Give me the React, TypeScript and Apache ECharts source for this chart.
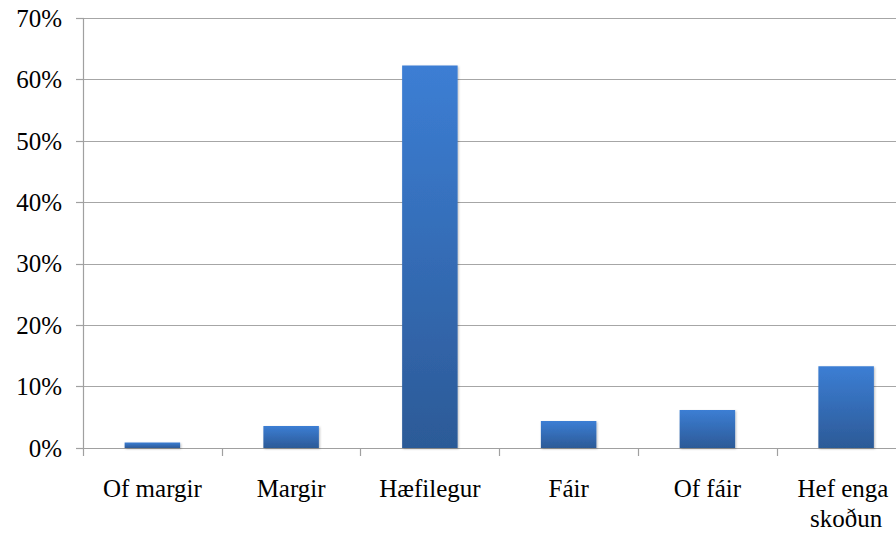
import React, { useEffect, useRef } from "react";
import * as echarts from "echarts";

const categories = ["Of margir", "Margir", "Hæfilegur", "Fáir", "Of fáir", "Hef enga skoðun"];
const values = [0.9, 3.6, 62.3, 4.4, 6.2, 13.3];
const yTicks = [0, 10, 20, 30, 40, 50, 60, 70];

export default function App() {
  const ref = useRef<HTMLDivElement>(null);
  useEffect(() => {
    if (!ref.current) return;
    const chart = echarts.init(ref.current, undefined, { renderer: "svg" });
    const font = "serif";
    chart.setOption({
      animation: false,
      textStyle: { fontFamily: font },
      grid: { left: 83, top: 18.3, width: 832.5, height: 433 },
      xAxis: {
        type: "category",
        data: categories,
        axisLine: { show: true, lineStyle: { color: "#a0a0a0", width: 1.2 } },
        axisTick: { show: true, length: 8, alignWithLabel: false, lineStyle: { color: "#a0a0a0", width: 1.2 } },
        axisLabel: {
          color: "#000",
          fontFamily: font,
          fontSize: 25,
          lineHeight: 30,
          margin: 25,
          interval: 0,
          width: 130,
          overflow: "break",
        },
      },
      yAxis: {
        type: "value",
        min: yTicks[0],
        max: yTicks[yTicks.length - 1],
        interval: 10,
        axisLine: { show: true, lineStyle: { color: "#a0a0a0", width: 1.2 } },
        axisTick: { show: true, length: 7, lineStyle: { color: "#a0a0a0", width: 1.2 } },
        splitLine: { show: true, lineStyle: { color: "#a6a6a6", width: 1.2 } },
        axisLabel: {
          color: "#000",
          fontFamily: font,
          fontSize: 25,
          margin: 21,
          formatter: (v: number) => `${v}%`,
        },
      },
      series: [
        {
          type: "bar",
          data: values,
          barWidth: "40%",
          itemStyle: {
            color: new echarts.graphic.LinearGradient(0, 0, 0, 1, [
              { offset: 0, color: "#3c7ed4" },
              { offset: 1, color: "#2c5a97" },
            ]),
            shadowColor: "rgba(0,0,0,0.25)",
            shadowBlur: 2,
            shadowOffsetX: 1,
            shadowOffsetY: 1,
          },
        },
      ],
    });
    return () => chart.dispose();
  }, []);
  return (
    <div
      style={{ position: "fixed", left: 0, top: 0, width: 896, height: 533, overflow: "hidden", background: "#fff" }}
    >
      <div ref={ref} style={{ width: 930, height: 533 }} />
    </div>
  );
}
